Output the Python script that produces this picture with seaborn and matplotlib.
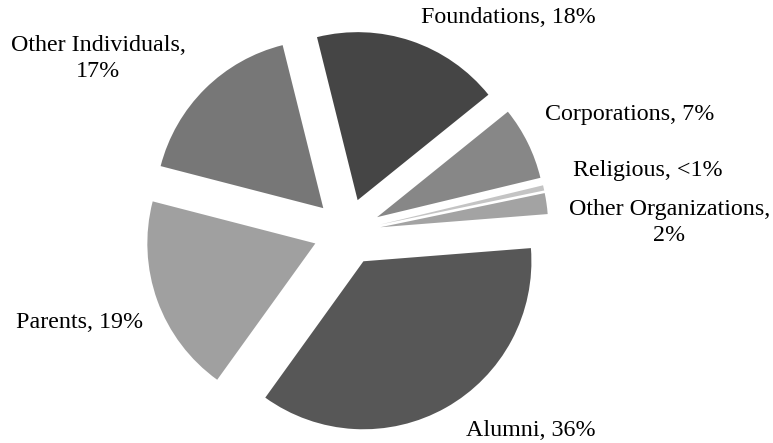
import matplotlib
matplotlib.use("Agg")
import matplotlib.pyplot as plt
import seaborn as sns

# data
sources = ["Foundations", "Corporations", "Religious", "Other Organizations",
           "Alumni", "Parents", "Other Individuals"]
shares = [18, 7, 0.5, 2, 36, 19, 17]
share_text = ["18%", "7%", "<1%", "2%", "36%", "19%", "17%"]

# styling
colors = ["#454545", "#878787", "#c4c4c4", "#a3a3a3", "#575757", "#a0a0a0", "#777777"]
label_text = [
    "Foundations, {}",
    "Corporations, {}",
    "Religious, {}",
    "Other Organizations,\n{}",
    "Alumni, {}",
    "Parents, {}",
    "Other Individuals,\n{}",
]
# label centres in pie-radius units (pie centre at 0,0)
label_pos = [(0.961, 1.274), (1.685, 0.702), (1.792, 0.369), (1.92, 0.057),
             (1.095, -1.179), (-1.592, -0.536), (-1.482, 1.033)]

sns.set_theme(style="white")
plt.rcParams["font.family"] = ["Liberation Serif", "DejaVu Serif"]

fig = plt.figure(figsize=(7.73, 4.43), dpi=100)
ax = fig.add_axes([0, 0, 1, 1])

ax.pie(shares, colors=colors, startangle=104, counterclock=False,
       explode=[0.2] * len(shares), radius=1,
       wedgeprops=dict(linewidth=0))

for i, src in enumerate(sources):
    x, y = label_pos[i]
    ax.text(x, y, label_text[i].format(share_text[i]), ha="center", va="center",
            fontsize=17.3, color="#000000", linespacing=1.3)

ax.set_xlim(-2.065, 2.536)
ax.set_ylim(-1.256, 1.381)
ax.set_aspect("equal")
ax.axis("off")

fig.savefig("out.png", dpi=100, facecolor="white")
